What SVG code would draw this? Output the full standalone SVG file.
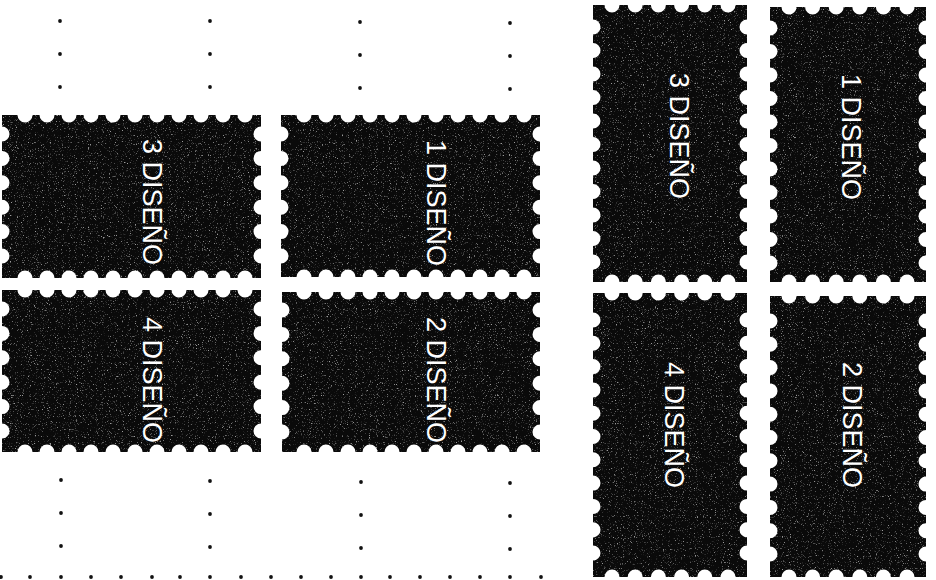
<svg xmlns="http://www.w3.org/2000/svg" width="936" height="580" viewBox="0 0 936 580">
<style>
.stamp{fill:#0a0a0a}
.grain{fill:#fff;filter:url(#grain);opacity:.6}
.perf{stroke:#fff;stroke-width:15;stroke-linecap:round;fill:none}
.lbl{fill:#fff;font-family:"Liberation Sans",Arial,sans-serif;font-size:27px;text-anchor:middle}
.dot{fill:#111}
</style>
<defs>
<filter id="grain" x="0" y="0" width="100%" height="100%" color-interpolation-filters="sRGB">
<feTurbulence type="fractalNoise" baseFrequency="0.85" numOctaves="3" seed="7" result="n"/>
<feColorMatrix in="n" type="matrix" values="0 0 0 0 1  0 0 0 0 1  0 0 0 0 1  4.5 0 0 0 -2.75" result="s"/>
<feComposite in="s" in2="SourceGraphic" operator="in"/>
</filter>
</defs>
<rect width="936" height="580" fill="#fff"/>
<g id="grid">
<g class="dot">
<circle cx="60" cy="21" r="1.9"/><circle cx="210" cy="21" r="1.9"/><circle cx="360" cy="22" r="1.9"/><circle cx="510" cy="23" r="1.9"/>
<circle cx="60" cy="54" r="1.9"/><circle cx="210" cy="54" r="1.9"/><circle cx="360" cy="55" r="1.9"/><circle cx="510" cy="56" r="1.9"/>
<circle cx="60" cy="87" r="1.9"/><circle cx="210" cy="87" r="1.9"/><circle cx="360" cy="88" r="1.9"/><circle cx="510" cy="89" r="1.9"/>
<circle cx="61" cy="480" r="1.9"/><circle cx="210" cy="481" r="1.9"/><circle cx="361" cy="482" r="1.9"/><circle cx="510" cy="483" r="1.9"/>
<circle cx="61" cy="513" r="1.9"/><circle cx="210" cy="514" r="1.9"/><circle cx="361" cy="515" r="1.9"/><circle cx="510" cy="516" r="1.9"/>
<circle cx="61" cy="546" r="1.9"/><circle cx="210" cy="547" r="1.9"/><circle cx="361" cy="548" r="1.9"/><circle cx="510" cy="549" r="1.9"/>
<circle cx="1" cy="577" r="1.9"/><circle cx="30" cy="577" r="1.9"/><circle cx="61" cy="577" r="1.9"/><circle cx="91" cy="577" r="1.9"/><circle cx="121" cy="577" r="1.9"/><circle cx="152" cy="577" r="1.9"/><circle cx="180" cy="577" r="1.9"/><circle cx="210" cy="577" r="1.9"/><circle cx="241" cy="577" r="1.9"/><circle cx="271" cy="577" r="1.9"/><circle cx="301" cy="577" r="1.9"/><circle cx="331" cy="577" r="1.9"/><circle cx="361" cy="577" r="1.9"/><circle cx="390" cy="577" r="1.9"/><circle cx="420" cy="577" r="1.9"/><circle cx="450" cy="577" r="1.9"/><circle cx="480" cy="577" r="1.9"/><circle cx="510" cy="577" r="1.9"/><circle cx="541" cy="577" r="1.9"/>
</g>
</g>
<g id="connectors"></g>
<g id="stamp-left-3">
<rect class="stamp" x="2" y="115" width="259" height="163"/>
<rect class="grain" x="2" y="115" width="259" height="163"/>
<g class="perf" stroke-dasharray="0 22"><line x1="25" y1="115" x2="246" y2="115"/><line x1="25" y1="278" x2="246" y2="278"/></g>
<g class="perf" stroke-dasharray="0 24.4"><line x1="2" y1="134" x2="2" y2="257"/><line x1="261" y1="134" x2="261" y2="257"/></g>
<text class="lbl" transform="translate(143,202) rotate(90)">3 DISEÑO</text>
</g>
<g id="stamp-left-1">
<rect class="stamp" x="281" y="115" width="259" height="162"/>
<rect class="grain" x="281" y="115" width="259" height="162"/>
<g class="perf" stroke-dasharray="0 22"><line x1="304" y1="115" x2="525" y2="115"/><line x1="304" y1="277" x2="525" y2="277"/></g>
<g class="perf" stroke-dasharray="0 24.4"><line x1="281" y1="134" x2="281" y2="257"/><line x1="540" y1="134" x2="540" y2="257"/></g>
<text class="lbl" transform="translate(427,203) rotate(90)">1 DISEÑO</text>
</g>
<g id="stamp-left-4">
<rect class="stamp" x="2" y="290" width="259" height="162"/>
<rect class="grain" x="2" y="290" width="259" height="162"/>
<g class="perf" stroke-dasharray="0 22"><line x1="25" y1="290" x2="246" y2="290"/><line x1="25" y1="452" x2="246" y2="452"/></g>
<g class="perf" stroke-dasharray="0 24.4"><line x1="2" y1="309" x2="2" y2="432"/><line x1="261" y1="309" x2="261" y2="432"/></g>
<text class="lbl" transform="translate(143,380) rotate(90)">4 DISEÑO</text>
</g>
<g id="stamp-left-2">
<rect class="stamp" x="282" y="292" width="258" height="160"/>
<rect class="grain" x="282" y="292" width="258" height="160"/>
<g class="perf" stroke-dasharray="0 22"><line x1="304" y1="292" x2="525" y2="292"/><line x1="304" y1="452" x2="525" y2="452"/></g>
<g class="perf" stroke-dasharray="0 24.4"><line x1="282" y1="310" x2="282" y2="433"/><line x1="540" y1="310" x2="540" y2="433"/></g>
<text class="lbl" transform="translate(427,380) rotate(90)">2 DISEÑO</text>
</g>
<g id="stamp-right-3">
<rect class="stamp" x="593" y="5" width="154" height="277"/>
<rect class="grain" x="593" y="5" width="154" height="277"/>
<g class="perf" stroke-dasharray="0 23.2"><line x1="612" y1="5" x2="729" y2="5"/><line x1="612" y1="282" x2="729" y2="282"/></g>
<g class="perf" stroke-dasharray="0 23.5"><line x1="593" y1="27" x2="593" y2="263"/><line x1="747" y1="27" x2="747" y2="263"/></g>
<text class="lbl" transform="translate(670,136) rotate(90)">3 DISEÑO</text>
</g>
<g id="stamp-right-1">
<rect class="stamp" x="770" y="7" width="156" height="275"/>
<rect class="grain" x="770" y="7" width="156" height="275"/>
<g class="perf" stroke-dasharray="0 23.6"><line x1="789" y1="7" x2="908" y2="7"/><line x1="789" y1="282" x2="908" y2="282"/></g>
<g class="perf" stroke-dasharray="0 23.5"><line x1="770" y1="28" x2="770" y2="264"/><line x1="926" y1="28" x2="926" y2="264"/></g>
<text class="lbl" transform="translate(842,137) rotate(90)">1 DISEÑO</text>
</g>
<g id="stamp-right-4">
<rect class="stamp" x="593" y="293" width="154" height="284"/>
<rect class="grain" x="593" y="293" width="154" height="284"/>
<g class="perf" stroke-dasharray="0 23.2"><line x1="612" y1="293" x2="729" y2="293"/><line x1="612" y1="577" x2="729" y2="577"/></g>
<g class="perf" stroke-dasharray="0 23.3"><line x1="593" y1="320" x2="593" y2="554"/><line x1="747" y1="320" x2="747" y2="554"/></g>
<text class="lbl" transform="translate(665,425) rotate(90)">4 DISEÑO</text>
</g>
<g id="stamp-right-2">
<rect class="stamp" x="770" y="296" width="156" height="281"/>
<rect class="grain" x="770" y="296" width="156" height="281"/>
<g class="perf" stroke-dasharray="0 23.6"><line x1="789" y1="296" x2="908" y2="296"/><line x1="789" y1="577" x2="908" y2="577"/></g>
<g class="perf" stroke-dasharray="0 23.3"><line x1="770" y1="321" x2="770" y2="555"/><line x1="926" y1="321" x2="926" y2="555"/></g>
<text class="lbl" transform="translate(843,425) rotate(90)">2 DISEÑO</text>
</g>
</svg>
